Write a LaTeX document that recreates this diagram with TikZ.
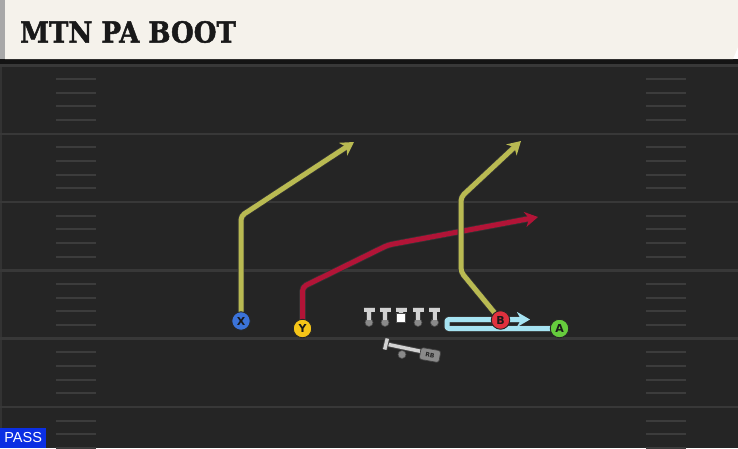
\documentclass[tikz,border=0pt]{standalone}
\usepackage{fontspec}
\setmainfont{DejaVu Sans}
\newfontfamily\titlefont[FakeStretch=0.9,FakeBold=1.6]{DejaVu Serif Bold}
\newfontfamily\passfont{Liberation Sans}
\usetikzlibrary{arrows.meta}
\definecolor{fieldbg}{HTML}{252525}
\definecolor{yardc}{HTML}{383838}
\definecolor{hashc}{HTML}{3C3C3C}
\definecolor{headerbg}{HTML}{F5F2EB}
\definecolor{stripec}{HTML}{A8A8A8}
\definecolor{olivec}{HTML}{B9BA52}
\definecolor{crimc}{HTML}{B21437}
\definecolor{lblue}{HTML}{A6E3F2}
\definecolor{xblue}{HTML}{3B73D9}
\definecolor{yyel}{HTML}{F5C518}
\definecolor{bred}{HTML}{E0313E}
\definecolor{agreen}{HTML}{66CC3D}
\definecolor{passblue}{HTML}{0B2FE3}
\definecolor{olgray}{HTML}{D2D2D2}
\definecolor{dotgray}{HTML}{8A8A8A}
\pgfdeclarelayer{field}
\pgfdeclarelayer{routes}
\pgfsetlayers{field,routes,main}
\tikzset{
  yardline/.style={draw=yardc, line width=2.5pt},
  hashline/.style={draw=hashc, line width=2pt},
  player/.style={circle, minimum size=18.5pt, inner sep=0pt, draw=black!85, line width=0.9pt,
    font=\fontsize{11}{11}\selectfont\bfseries, text=black!90},
  route/.style={line width=5pt, line join=round, rounded corners=4pt,
    -{Stealth[length=13pt,width=15pt,inset=4pt]},
    preaction={draw=black!80, line width=6.6pt, -, shorten >=9pt}},
  olT/.style={draw=olgray, line width=4pt,
    preaction={draw=black!75, line width=5.4pt}},
}
\begin{document}
\begin{tikzpicture}[x=1pt,y=-1pt]
\useasboundingbox (0,0) rectangle (738,448);
\begin{pgfonlayer}{field}
  \fill[fieldbg] (0,59) rectangle (738,448);
  \fill[black!92] (0,59) rectangle (738,64.5);
  \fill[black!80] (0,64.5) rectangle (2,448);
  \foreach \y in {65.5,133.8,202.1,270.4,338.7,407} {
    \draw[yardline] (0,\y) -- (738,\y);
  }
  \foreach \k in {0,...,5} {
    \foreach \j in {1,...,4} {
      \pgfmathsetmacro{\yy}{65.5+68.3*\k+13.66*\j}
      \draw[hashline] (56,\yy) -- (96,\yy);
      \draw[hashline] (646,\yy) -- (686,\yy);
    }
  }
  % header
  \fill[headerbg] (5,0) -- (738,0) -- (738,47) -- (733,59) -- (5,59) -- cycle;
  \fill[stripec] (0,0) rectangle (5,59);
\end{pgfonlayer}

\node[anchor=west, inner sep=0pt, text=black!90] (title) at (20,32)
  {\titlefont\fontsize{29}{29}\selectfont MTN PA BOOT};

\node[anchor=south west, fill=passblue, minimum width=46pt, minimum height=20pt,
  inner sep=0pt, text=white] (pass) at (0,448)
  {\passfont\fontsize{14.5}{14.5}\selectfont PASS};

% players
\node[player, fill=xblue] (X) at (241,321) {X};
\node[player, fill=yyel] (Y) at (302.5,328.5) {Y};
\node[player, fill=bred] (B) at (500.5,320) {B};
\node[player, fill=agreen] (A) at (559.5,328.5) {A};

% routes
\coordinate (xe) at (354,142);
\coordinate (ye) at (538,217);
\coordinate (be) at (521,141);
\coordinate (ae) at (530,319.5);
\begin{pgfonlayer}{routes}
  \draw[route, olivec] (X.center) -- (241,216) -- (xe);
  \draw[route, crimc] (Y.center) -- (302.5,287) -- (388,245) -- (ye);
  \draw[route, olivec] (B.center) -- (461,272) -- (461,197) -- (be);
  \draw[route, lblue, rounded corners=2pt] (A.center) -- (447,328.5) -- (447,319.5) -- (ae);
\end{pgfonlayer}

% offensive line
\foreach \c in {369,385,418,434.5} {
  \fill[dotgray, draw=black!70, line width=0.6pt] (\c,322.5) circle (4);
  \draw[olT] (\c-5.5,309.5) -- (\c+5.5,309.5) (\c,309.5) -- (\c,319.5);
}
\draw[olT] (395.5,309.5) -- (406.5,309.5) (401,309.5) -- (401,313);
\fill[white, draw=black!70, line width=0.7pt] (396.5,313.5) rectangle (405.5,322);

% running back
\fill[dotgray, draw=black!70, line width=0.6pt] (402,354.5) circle (4);
\draw[olT, line width=3.5pt] (386,344) -- (424,352);
\draw[olT, line width=3.5pt] (387.3,338.5) -- (384.7,349.5);
\node[fill=dotgray, draw=black!75, line width=0.7pt, rounded corners=2.5pt,
  minimum width=20pt, minimum height=12pt, inner sep=0pt, rotate=-10,
  font=\fontsize{6}{6}\selectfont\bfseries, text=black!85] (rb) at (430,355) {RB};
\end{tikzpicture}
\end{document}
